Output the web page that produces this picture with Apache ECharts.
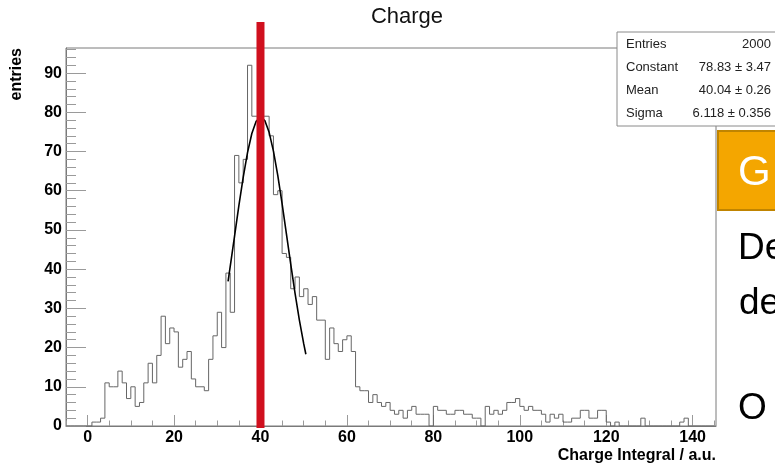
<!DOCTYPE html>
<html><head><meta charset="utf-8">
<script src="https://cdn.jsdelivr.net/npm/echarts@6/dist/echarts.min.js"></script>
<style>html,body{margin:0;padding:0;background:#fff}#c{width:775px;height:467px}</style>
</head><body><div id="c"></div>
<script>
// ---- data ----
const binLow = -5;
const binWidth = 1;
const counts = [
  0,0,0,0,0,
  0,
  1,1,2,11,10,10,14,11,7,10,
  5,6,11,16,11,18,28,21,25,24,
  15,17,19,12,10,10,9,17,23,29,
  20,39,29,69,62,68,92,79,79,79,
  79,74,59,60,44,43,35,38,33,35,
  31,33,27,27,17,25,21,19,22,23,
  19,10,9,9,6,8,6,5,6,4,
  3,4,2,4,5,3,3,3,0,5,
  4,4,3,3,4,4,3,3,2,2,
  0,5,3,4,3,4,6,6,7,5,
  4,5,4,4,3,1,3,2,3,1,
  1,2,2,4,4,2,2,4,4,1,
  0,1,0,0,0,0,0,2,0,0,
  0,0,0,0,0,0,1,2,
  0,0,0,0,0,0
];
const xTickLabels = [0,20,40,60,80,100,120,140];
const xMinorTicks = [-5,0,5,10,15,20,25,30,35,40,45,50,55,60,65,70,75,80,85,90,95,100,105,110,115,120,125,130,135,140,145];
const yTickLabels = [0,10,20,30,40,50,60,70,80,90];
const yMinorTicks = [0,2,4,6,8,10,12,14,16,18,20,22,24,26,28,30,32,34,36,38,40,42,44,46,48,50,52,54,56,58,60,62,64,66,68,70,72,74,76,78,80,82,84,86,88,90,92,94,96];
const fitX = [32.5,33,34,35,36,37,38,39,40,41,42,43,44,45,46,47,48,49,50,50.5];
const fitY = [36.9,40.7,48.4,56.2,63.4,69.7,74.6,77.7,78.8,77.9,74.9,70.1,63.9,56.7,49.0,41.3,33.8,27.0,21.0,18.3];
const cutValue = 40;
const cutRange = [-0.5, 103];
const statsNames = ['Entries','Constant','Mean','Sigma'];
const statsValues = ['2000','78.83 \u00b1 3.47','40.04 \u00b1 0.26','6.118 \u00b1 0.356'];
const xMin = -5, xMax = 145.4, yMin = 0, yMax = 96.4;

// ---- build ----
const histPts = counts.map((c, i) => [binLow + i * binWidth, c]);
histPts.push([binLow + counts.length * binWidth, counts[counts.length - 1]]);
const fitPts = fitX.map((x, i) => [x, fitY[i]]);

const FONT = 'Liberation Sans, Arial, Helvetica, sans-serif';
const chart = echarts.init(document.getElementById('c'), null, {renderer: 'canvas'});
const axisGray = '#7a7a7a';
const tickGray = '#9a9a9a';

const statsGraphics = [
  {type: 'rect', shape: {x: 617, y: 32, width: 180, height: 94},
   style: {fill: '#fff', stroke: '#8a8a8a', lineWidth: 1}, z: 100}
];
statsNames.forEach((n, i) => {
  statsGraphics.push({type: 'text', x: 626, y: 44 + i * 23, z: 101,
    style: {text: n, font: '13px ' + FONT, fill: '#222', textAlign: 'left', textVerticalAlign: 'middle'}});
  statsGraphics.push({type: 'text', x: 771, y: 44 + i * 23, z: 101,
    style: {text: statsValues[i], font: '13px ' + FONT, fill: '#222', textAlign: 'right', textVerticalAlign: 'middle'}});
});

chart.setOption({
  animation: false,
  backgroundColor: '#fff',
  title: {
    text: 'Charge', left: 407, top: 6, textAlign: 'center', padding: 0,
    textStyle: {fontFamily: FONT, fontSize: 22, fontWeight: 'normal', color: '#111'}
  },
  grid: {left: 66, right: 59, top: 48, bottom: 41, show: true, borderColor: axisGray, borderWidth: 1, backgroundColor: 'transparent'},
  xAxis: [
    {type: 'value', min: xMin, max: xMax, position: 'bottom',
     name: 'Charge Integral / a.u.', nameLocation: 'end', nameGap: 0,
     nameTextStyle: {fontFamily: FONT, fontSize: 16, fontWeight: 'bold', color: '#000', align: 'right', verticalAlign: 'top', padding: [22, 0, 0, 0]},
     axisLine: {show: true, onZero: false, lineStyle: {color: axisGray}},
     axisTick: {show: true, inside: true, length: 11, customValues: xTickLabels, lineStyle: {color: tickGray}},
     axisLabel: {show: true, customValues: xTickLabels, margin: 4, fontFamily: FONT, fontSize: 16, fontWeight: 'bold', color: '#000'},
     splitLine: {show: false}},
    {type: 'value', min: xMin, max: xMax, position: 'bottom',
     axisLine: {show: false, onZero: false},
     axisTick: {show: true, inside: true, length: 5.5, customValues: xMinorTicks, lineStyle: {color: tickGray}},
     axisLabel: {show: false}, splitLine: {show: false}}
  ],
  yAxis: [
    {type: 'value', min: yMin, max: yMax, position: 'left',
     axisLine: {show: true, onZero: false, lineStyle: {color: axisGray}},
     axisTick: {show: true, inside: true, length: 20, customValues: yTickLabels, lineStyle: {color: tickGray}},
     axisLabel: {show: true, customValues: yTickLabels, margin: 4, fontFamily: FONT, fontSize: 16, fontWeight: 'bold', color: '#000'},
     splitLine: {show: false}},
    {type: 'value', min: yMin, max: yMax, position: 'left',
     axisLine: {show: false, onZero: false},
     axisTick: {show: true, inside: true, length: 10, customValues: yMinorTicks, lineStyle: {color: tickGray}},
     axisLabel: {show: false}, splitLine: {show: false}}
  ],
  series: [
    {type: 'line', name: 'Charge', xAxisIndex: 0, yAxisIndex: 0, data: histPts, step: 'end',
     symbol: 'none', lineStyle: {color: '#666', width: 1}, z: 2},
    {type: 'line', name: 'fit', xAxisIndex: 0, yAxisIndex: 0, data: fitPts, smooth: false,
     symbol: 'none', lineStyle: {color: '#000', width: 1.6}, z: 3},
    {type: 'custom', name: 'cut', xAxisIndex: 0, yAxisIndex: 0, clip: false, z: 4,
     data: [[cutValue, cutRange[0], cutRange[1]]],
     renderItem: (params, api) => {
       const p0 = api.coord([api.value(0), api.value(1)]);
       const p1 = api.coord([api.value(0), api.value(2)]);
       return {type: 'rect', shape: {x: p0[0] - 4, y: p1[1], width: 8, height: p0[1] - p1[1]},
               style: {fill: '#d0101e'}};
     }}
  ],
  graphic: statsGraphics.concat([
    {type: 'text', x: 17, y: 48, rotation: Math.PI / 2, z: 101,
     style: {text: 'entries', font: 'bold 16px ' + FONT, fill: '#000', textAlign: 'right', textVerticalAlign: 'middle'}},
    {type: 'rect', shape: {x: 718, y: 131, width: 80, height: 79}, z: 100,
     style: {fill: '#f4a600', stroke: '#c08400', lineWidth: 2}},
    {type: 'text', x: 738, y: 173, z: 101,
     style: {text: 'G', font: '42px ' + FONT, fill: '#fff', textAlign: 'left', textVerticalAlign: 'middle'}},
    {type: 'text', x: 738, y: 249, z: 101,
     style: {text: 'De', font: '37px ' + FONT, fill: '#000', textAlign: 'left', textVerticalAlign: 'middle'}},
    {type: 'text', x: 739, y: 304, z: 101,
     style: {text: 'de', font: '37px ' + FONT, fill: '#000', textAlign: 'left', textVerticalAlign: 'middle'}},
    {type: 'text', x: 738, y: 409, z: 101,
     style: {text: 'O', font: '37px ' + FONT, fill: '#000', textAlign: 'left', textVerticalAlign: 'middle'}}
  ])
});
</script></body></html>
